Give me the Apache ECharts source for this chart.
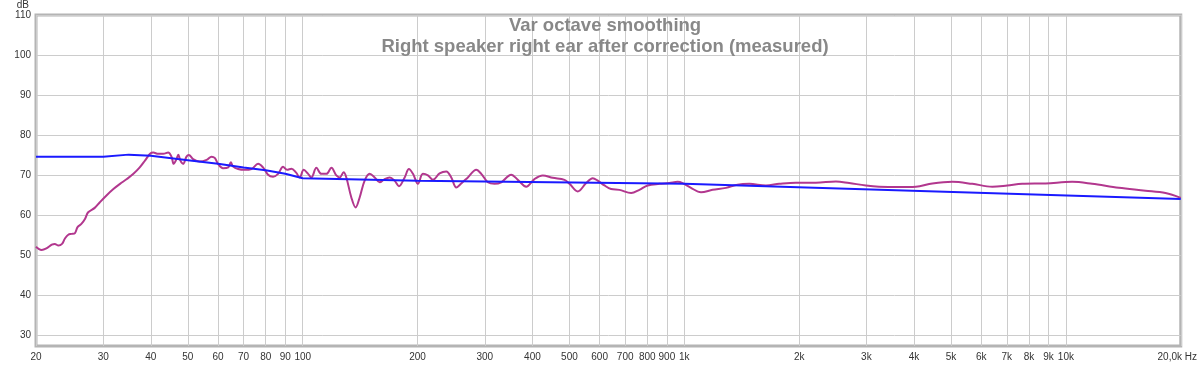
<!DOCTYPE html>
<html><head><meta charset="utf-8">
<script src="https://cdn.jsdelivr.net/npm/echarts@6/dist/echarts.min.js"></script>
<style>html,body{margin:0;padding:0;background:#fff}#c{width:1200px;height:365px}</style>
</head><body><div id="c"></div>
<script>
const measuredFreq = [20,20.3,20.7,21.3,22.0,22.4,22.9,23.4,23.8,24.3,24.8,25.3,25.7,26.3,26.9,27.4,28.5,29.4,30.6,31.9,33.2,34.6,36.0,37.4,38.6,39.8,40.6,41.8,43.1,44.4,45.3,45.9,46.7,47.2,47.8,48.6,49.6,50.3,51.6,53.7,56.0,57.7,58.8,60.0,61.8,63.8,64.8,65.7,67.7,70.5,73.4,76.4,78.7,81.1,83.6,86.2,88.8,91.0,93.4,96.1,98.2,100.6,103.3,105.4,108.6,111.9,115.4,118.9,122.5,125.0,128.0,130.1,134.1,137.6,141.0,145.3,149.8,154.4,159.1,163.9,169.0,174.1,178.7,185.0,189.8,194.5,200.4,206.5,212.9,219.4,228.4,237.8,245.1,252.6,260.3,270.9,285.0,293.7,305.6,318.2,331.3,351.9,366.2,385.2,404.9,425.7,452.1,485.2,500.1,525.7,553.0,575.5,593.1,617.6,643.0,676.0,725.4,762.6,801.7,860.3,913.6,960.4,989.8,1041,1106,1186,1286,1379,1480,1636,1773,1961,2212,2496,2704,2990,3239,3655,4043,4467,5040,5686,6415,7021,7685,8849,10386,11716,13763,16166,18240,20000];
const measuredDb = [52.1,51.6,51.3,51.7,52.6,52.8,52.4,52.8,54.1,55.1,55.3,55.5,57.0,57.8,59.1,60.7,61.8,63.2,64.9,66.5,67.8,69.0,70.3,71.9,73.6,75.3,75.6,75.3,75.3,75.6,74.6,72.8,74.0,75.1,73.6,72.8,74.6,75.0,74.0,73.4,73.8,74.6,74.3,72.8,71.7,71.9,73.2,72.1,71.5,71.3,71.5,72.8,71.9,70.1,69.6,70.3,72.1,71.3,71.6,70.6,69.4,71.3,70.3,69.4,71.8,70.3,70.3,71.8,69.9,69.4,70.7,69.4,64.4,61.9,64.4,68.6,70.3,69.4,68.2,69.0,69.4,68.6,67.2,69.4,71.5,70.3,67.8,70.3,69.9,68.8,70.4,70.9,69.4,66.9,67.9,69.4,71.3,70.3,68.2,67.8,68.2,70.1,68.8,67.1,69.0,69.9,69.3,68.8,67.8,65.9,68.0,69.2,68.6,67.4,66.5,66.3,65.5,66.3,67.4,67.8,68.0,68.3,68.0,66.8,65.7,66.3,66.8,67.6,67.8,67.4,67.8,68.1,68.1,68.4,68.0,67.4,67.1,67.0,67.1,67.9,68.3,67.8,67.1,67.4,67.8,67.9,68.3,67.8,66.8,66.1,65.5,64.3];
const targetFreq = [20,30,35,40,50,60,70,80,90,100,200,1000,20000];
const targetDb = [74.6,74.6,75.1,74.8,73.7,72.8,71.9,71.2,70.3,69.2,68.6,67.8,64.0];
const xTickValues = [20,30,40,50,60,70,80,90,100,200,300,400,500,600,700,800,900,1000,2000,3000,4000,5000,6000,7000,8000,9000,10000,20000];
const xTickLabels = ['20','30','40','50','60','70','80','90','100','200','300','400','500','600','700','800','900','1k','2k','3k','4k','5k','6k','7k','8k','9k','10k','20,0k Hz'];
const yTickValues = [30,40,50,60,70,80,90,100,110];
const titleLines = ['Var octave smoothing','Right speaker right ear after correction (measured)'];

const chart = echarts.init(document.getElementById('c'), null, {renderer:'canvas'});
const pair = (xs, ys) => xs.map((x, i) => [x, ys[i]]);
const FONT = 'Liberation Sans, Arial, sans-serif';
chart.setOption({
  animation: false,
  backgroundColor: '#fff',
  title: {
    text: titleLines.join('\n'), left: 600, top: 10, textAlign: 'center',
    textStyle: {fontFamily: FONT, fontSize: 18.5, fontWeight: 'bold', color: '#888888', lineHeight: 21}
  },
  grid: {left: 36, right: 17, top: 14, bottom: 19, show: true, borderColor: '#b4b4b4', borderWidth: 3, backgroundColor: 'transparent'},
  xAxis: {
    type: 'log', logBase: 10, min: 20, max: 20000,
    axisLine: {show: false},
    axisTick: {show: false, customValues: xTickValues},
    splitLine: {show: true, lineStyle: {color: '#cccccc', width: 1}},
    axisLabel: {
      customValues: xTickValues, margin: 6, color: '#333', fontFamily: FONT, fontSize: 10,
      formatter: v => {
        const i = xTickValues.indexOf(Math.round(v));
        const t = i >= 0 ? xTickLabels[i] : '';
        return i === xTickValues.length - 1 ? '{e|' + t + '}' : t;
      },
      rich: {e: {fontFamily: FONT, fontSize: 10, color: '#333', padding: [0, 7, 0, 0]}}
    }
  },
  yAxis: {
    type: 'value', min: 27.3, max: 110,
    name: 'dB', nameLocation: 'end', nameGap: 3,
    nameTextStyle: {fontFamily: FONT, fontSize: 10, color: '#333', align: 'right', padding: [0, 7, 0, 0]},
    axisLine: {show: false},
    axisTick: {show: false, customValues: yTickValues},
    splitLine: {show: true, lineStyle: {color: '#cccccc', width: 1}},
    axisLabel: {customValues: yTickValues, margin: 5, color: '#333', fontFamily: FONT, fontSize: 10}
  },
  series: [
    {type: 'line', data: pair(measuredFreq, measuredDb), showSymbol: false, smooth: 0.35,
     lineStyle: {color: '#b2378e', width: 2}, z: 3},
    {type: 'line', data: pair(targetFreq, targetDb), showSymbol: false, smooth: false,
     lineStyle: {color: '#1a1aff', width: 2}, z: 4}
  ]
});
</script></body></html>
